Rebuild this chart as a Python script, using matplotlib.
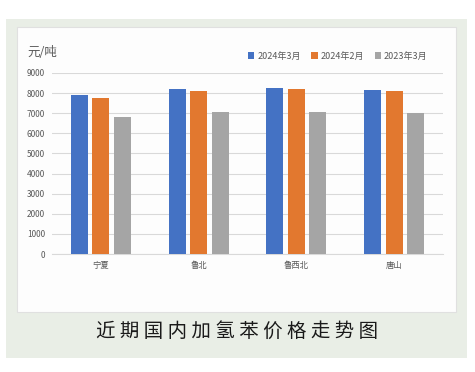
import matplotlib.pyplot as plt
import numpy as np
from matplotlib.patches import Rectangle

plt.rcParams['font.family'] = ['Noto Sans CJK SC', 'DejaVu Sans']

# --- Data ---
categories = ['宁夏', '鲁北', '鲁西北', '唐山']
series_names = ['2024年3月', '2024年2月', '2023年3月']
mar_2024 = [7900, 8200, 8250, 8150]
feb_2024 = [7750, 8100, 8200, 8100]
mar_2023 = [6800, 7050, 7050, 7000]
y_ticks = [0, 1000, 2000, 3000, 4000, 5000, 6000, 7000, 8000, 9000]
caption = '近期国内加氢苯价格走势图'

COLORS = ['#4472C4', '#E2782F', '#A5A5A5']
TEXT_GRAY = '#595959'

fig = plt.figure(figsize=(4.75, 3.72), dpi=100)
W, H = 475, 372

# outer light green panel and inner white panel
fig.patches.append(Rectangle((6 / W, 1 - 358 / H), 461 / W, 339 / H,
                             transform=fig.transFigure, facecolor='#E9EEE6',
                             edgecolor='none', zorder=-2))
fig.patches.append(Rectangle((17 / W, 1 - 312 / H), 439 / W, 285 / H,
                             transform=fig.transFigure, facecolor='#FDFDFD',
                             edgecolor='#E0E0E0', linewidth=0.8, zorder=-1))

ax = fig.add_axes([52 / W, 1 - 254 / H, 391 / W, 181 / H])
ax.set_facecolor('none')
ax.set_zorder(1)

x = np.arange(len(categories))
width = 0.175
step = 0.22
for i, (vals, name) in enumerate(zip([mar_2024, feb_2024, mar_2023], series_names)):
    ax.bar(x + (i - 1) * step, vals, width, color=COLORS[i], label=name, zorder=3)

ax.set_xlim(-0.5, 3.5)
ax.set_ylim(0, 9000)
ax.set_yticks(y_ticks)
ax.set_yticklabels([str(v) for v in y_ticks], fontsize=6, color=TEXT_GRAY)
ax.set_xticks(x)
ax.set_xticklabels(categories, fontsize=6, color=TEXT_GRAY)
ax.tick_params(length=0, pad=5)
ax.grid(axis='y', color='#D9D9D9', linewidth=0.8, zorder=0)
for s in ['top', 'right', 'left']:
    ax.spines[s].set_visible(False)
ax.spines['bottom'].set_color('#D9D9D9')
ax.spines['bottom'].set_linewidth(0.8)

fig.text(27 / W, 1 - 53 / H, '元/吨', fontsize=9, color=TEXT_GRAY, va='center')

ax.legend(loc='center left', bbox_to_anchor=(240 / W, 1 - 56 / H),
          bbox_transform=fig.transFigure, ncol=3, frameon=False,
          fontsize=6.5, handlelength=0.7, handleheight=0.7, handletextpad=0.3,
          columnspacing=1.2, labelcolor=TEXT_GRAY)

fig.text(237 / W, 1 - 331 / H, ' '.join(caption), fontsize=14,
         color='#1a1a1a', ha='center', va='center')

fig.savefig('out.png', dpi=100)
